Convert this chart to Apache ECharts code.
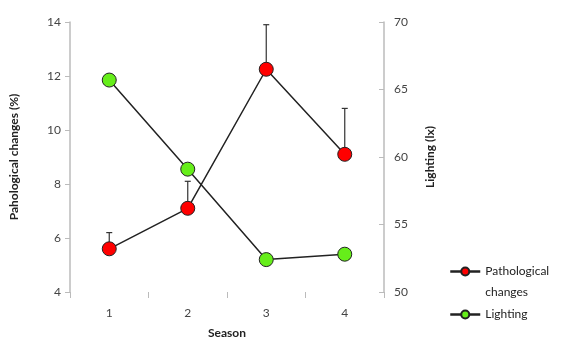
<!DOCTYPE html>
<html>
<head>
<meta charset="utf-8">
<script src="https://cdn.jsdelivr.net/npm/echarts@6/dist/echarts.min.js"></script>
<style>
  html, body { margin: 0; padding: 0; background: #fff; }
  #chart { width: 562px; height: 341px; }
</style>
</head>
<body>
<div id="chart"></div>
<script>
// 数据
const seasons = ['1', '2', '3', '4'];
const pathological = [5.6, 7.1, 12.25, 9.1];
const pathologicalErr = [0.6, 1.0, 1.65, 1.7];
const lighting = [65.7, 59.1, 52.4, 52.8];
const leftTicks = { min: 4, max: 14, interval: 2 };
const rightTicks = { min: 50, max: 70, interval: 5 };

const errData = seasons.map((s, i) => [i, pathological[i], pathological[i] + pathologicalErr[i]]);

const font = 'Lato, "Open Sans", sans-serif';
const myChart = echarts.init(document.getElementById('chart'));

myChart.setOption({
  animation: false,
  textStyle: { fontFamily: font },
  grid: { left: 70, right: 178, top: 22, bottom: 49, outerBoundsMode: 'none', containLabel: false },
  legend: {
    orient: 'vertical',
    left: 449,
    top: 240,
    padding: 0,
    itemWidth: 30,
    itemHeight: 10,
    itemGap: 1,
    lineStyle: { width: 2.5 },
    // 第一行与图标对齐
    formatter: (name) => name === 'Pathological changes' ? '\nPathological\nchanges' : name,
    textStyle: { fontSize: 12, color: '#222', fontFamily: font, lineHeight: 21 },
    data: ['Pathological changes', 'Lighting']
  },
  xAxis: {
    type: 'category',
    data: seasons,
    name: 'Season',
    nameLocation: 'middle',
    nameGap: 35,
    nameTextStyle: { fontWeight: 'bold', fontSize: 12, color: '#222' },
    axisLine: { show: false },
    axisTick: { show: true, length: 6, lineStyle: { color: '#bbb' } },
    axisLabel: { fontSize: 12, color: '#444', margin: 15 },
    splitLine: { show: false }
  },
  yAxis: [
    {
      type: 'value',
      min: leftTicks.min,
      max: leftTicks.max,
      interval: leftTicks.interval,
      name: 'Pahological changes (%)',
      nameLocation: 'middle',
      nameGap: 50,
      nameTextStyle: { fontWeight: 'bold', fontSize: 12, color: '#222' },
      axisLine: { show: true, lineStyle: { color: '#bbb', width: 1.5 } },
      axisTick: { show: true, length: 5, lineStyle: { color: '#bbb' } },
      axisLabel: { fontSize: 12, color: '#444', margin: 9 },
      splitLine: { show: false }
    },
    {
      type: 'value',
      position: 'right',
      min: rightTicks.min,
      max: rightTicks.max,
      interval: rightTicks.interval,
      name: 'Lighting (lx)',
      nameLocation: 'middle',
      nameRotate: 90,
      nameGap: 40,
      nameTextStyle: { fontWeight: 'bold', fontSize: 12, color: '#222' },
      axisLine: { show: true, lineStyle: { color: '#bbb', width: 1.5 } },
      axisTick: { show: true, inside: true, length: 5, lineStyle: { color: '#bbb' } },
      axisLabel: { fontSize: 12, color: '#444', margin: 10 },
      splitLine: { show: false }
    }
  ],
  series: [
    {
      name: 'errbar',
      type: 'custom',
      yAxisIndex: 0,
      z: 1,
      data: errData,
      renderItem: (params, api) => {
        const x = api.value(0);
        const lo = api.coord([x, api.value(1)]);
        const hi = api.coord([x, api.value(2)]);
        const style = { stroke: '#333', lineWidth: 1.2 };
        return {
          type: 'group',
          children: [
            { type: 'line', shape: { x1: lo[0], y1: lo[1], x2: hi[0], y2: hi[1] }, style },
            { type: 'line', shape: { x1: hi[0] - 3, y1: hi[1], x2: hi[0] + 3, y2: hi[1] }, style }
          ]
        };
      }
    },
    {
      name: 'Pathological changes',
      type: 'line',
      yAxisIndex: 0,
      z: 3,
      data: pathological,
      symbol: 'circle',
      symbolSize: 14,
      lineStyle: { color: '#222', width: 1.5 },
      itemStyle: { color: '#ff0000', borderColor: '#222', borderWidth: 1 }
    },
    {
      name: 'Lighting',
      type: 'line',
      yAxisIndex: 1,
      z: 2,
      data: lighting,
      symbol: 'circle',
      symbolSize: 14,
      lineStyle: { color: '#222', width: 1.5 },
      itemStyle: { color: '#66ee1a', borderColor: '#222', borderWidth: 1 }
    }
  ]
});

window.addEventListener('resize', () => { myChart.resize(); });
</script>
</body>
</html>
